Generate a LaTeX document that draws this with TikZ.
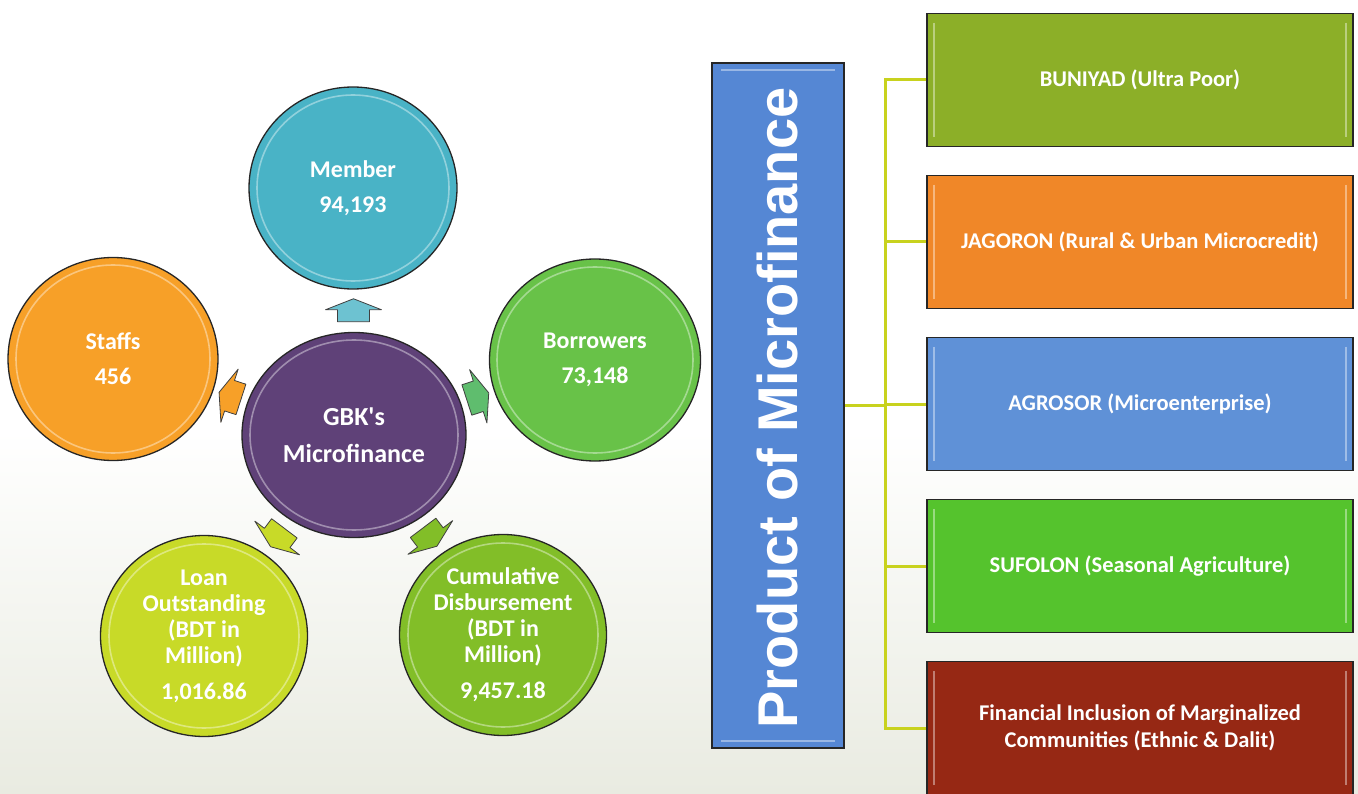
\documentclass[tikz,border=0pt]{standalone}
\usepackage{fontspec}
\setmainfont{Carlito}
\newfontfamily\titlefont{Liberation Sans}
\usetikzlibrary{shapes.geometric,calc}

% fills
\definecolor{cMember}{HTML}{49B3C6}
\definecolor{cStaff}{HTML}{F7A028}
\definecolor{cBorrow}{HTML}{68C248}
\definecolor{cCore}{HTML}{5F4178}
\definecolor{cLoan}{HTML}{C8DA28}
\definecolor{cCumul}{HTML}{82BE28}
\definecolor{cProd}{HTML}{5587D4}
\definecolor{cBuniyad}{HTML}{8CAF28}
\definecolor{cJagoron}{HTML}{F08728}
\definecolor{cAgrosor}{HTML}{5F91D7}
\definecolor{cSufolon}{HTML}{55C32D}
\definecolor{cInclusion}{HTML}{962814}
\definecolor{cLink}{HTML}{C8D21E}
\definecolor{cPaper}{HTML}{E9EBE1}

% small block arrow pointing from the core towards a bubble
\newcommand\radialarrow[3]{%
  \filldraw[blockarrow, fill=#3, shift={#1}, rotate=#2]
    (0,-12) -- (28,-1) -- (16,-1) -- (16,11) -- (-16,11) -- (-16,-1) -- (-28,-1) -- cycle;}

\begin{document}
\begin{tikzpicture}[x=1pt, y=-1pt,
  bubble/.style={ellipse, draw=black!85, line width=1.3pt, text=white,
    font=\bfseries\fontsize{24}{26}\selectfont, align=center, inner sep=0pt},
  prodbox/.style={rectangle, draw=black!85, line width=1.5pt,
    minimum width=426pt, minimum height=133pt, text=white,
    font=\bfseries\fontsize{22.5}{27}\selectfont, align=center},
  gloss/.style={white, opacity=.4, line width=1.6pt},
  link/.style={draw=cLink, line width=3pt},
  blockarrow/.style={draw=black!75, line width=.8pt, line join=round}
]
\useasboundingbox (0,0) rectangle (1358,794);

% paper tone towards the bottom
\fill[top color=white, bottom color=cPaper] (0,430) rectangle (1358,794);

% ---- radial diagram ----
\node[bubble, fill=cCore, minimum width=224pt, minimum height=205pt,
      font=\bfseries\fontsize{26}{28}\selectfont] (gbk) at (354,435) {GBK\textquotesingle s\\[9pt]Microfinance};
\node[bubble, fill=cMember, minimum width=208pt, minimum height=202pt] (member) at (353,188) {Member\\[9pt]94,193};
\node[bubble, fill=cStaff, minimum width=210pt, minimum height=203pt] (staff) at (113,359) {Staffs\\[9pt]456};
\node[bubble, fill=cBorrow, minimum width=211pt, minimum height=202pt] (borrow) at (595,360) {Borrowers\\[9pt]73,148};
\node[bubble, fill=cLoan, minimum width=207pt, minimum height=201pt] (loan) at (204,636)
  {Loan\\Outstanding\\(BDT in\\Million)\\[10pt]1,016.86};
\node[bubble, fill=cCumul, minimum width=207pt, minimum height=201pt] (cumul) at (503,635)
  {Cumulative\\Disbursement\\(BDT in\\Million)\\[10pt]9,457.18};

% glossy inner rims
\foreach \n/\rx/\ry in {gbk/104/95, member/96/93, staff/97/94, borrow/98/93, loan/95/92, cumul/95/92}
  \draw[gloss] (\n.center) ellipse [x radius=\rx, y radius=\ry];

% arrows from the core to each bubble
\radialarrow{($(gbk.north)!0.5!(member.south)$)}{0}{cMember!80!white}
\radialarrow{($(gbk.162)!0.5!(staff.-18)$)}{72}{cStaff}
\radialarrow{($(gbk.18)!0.5!(borrow.198)$)}{-72}{cBorrow!70!cMember}
\radialarrow{($(gbk.233)!0.5!(loan.53)$)}{143}{cLoan}
\radialarrow{($(gbk.307)!0.5!(cumul.127)$)}{-143}{cCumul}

% ---- product tree ----
\node[rectangle, draw=black!85, line width=1.5pt, fill=cProd,
      minimum width=132pt, minimum height=685pt] (prod) at (778,405.5) {};
\node[rotate=90, anchor=base, text=white,
      font=\titlefont\bfseries\fontsize{56}{60}\selectfont] (prodlabel) at (797,408) {Product of Microfinance};
\draw[gloss] ([shift={(10,8)}]prod.north west) -- ([shift={(-10,8)}]prod.north east);
\draw[gloss] ([shift={(10,-8)}]prod.south west) -- ([shift={(-10,-8)}]prod.south east);

\node[prodbox, fill=cBuniyad]   (b1) at (1140,80)  {BUNIYAD (Ultra Poor)};
\node[prodbox, fill=cJagoron]   (b2) at (1140,242) {JAGORON (Rural \& Urban Microcredit)};
\node[prodbox, fill=cAgrosor]   (b3) at (1140,404) {AGROSOR (Microenterprise)};
\node[prodbox, fill=cSufolon]   (b4) at (1140,566) {SUFOLON (Seasonal Agriculture)};
\node[prodbox, fill=cInclusion] (b5) at (1140,728) {Financial Inclusion of Marginalized\\Communities (Ethnic \& Dalit)};

\foreach \b in {b1,b2,b3,b4,b5}{
  \draw[gloss] ([shift={(8,10)}]\b.north west) -- ([shift={(8,-10)}]\b.south west);
  \draw[gloss] ([shift={(-8,10)}]\b.north east) -- ([shift={(-8,-10)}]\b.south east);
}

% connectors
\coordinate (bus) at (885,405.5);
\draw[link] (prod.east) -- (bus);
\draw[link, line join=miter] (b1.west) -- (bus |- b1.west) -- (bus |- b5.west) -- (b5.west);
\foreach \b in {b2,b3,b4}
  \draw[link] (bus |- \b.west) -- (\b.west);
\end{tikzpicture}
\end{document}
